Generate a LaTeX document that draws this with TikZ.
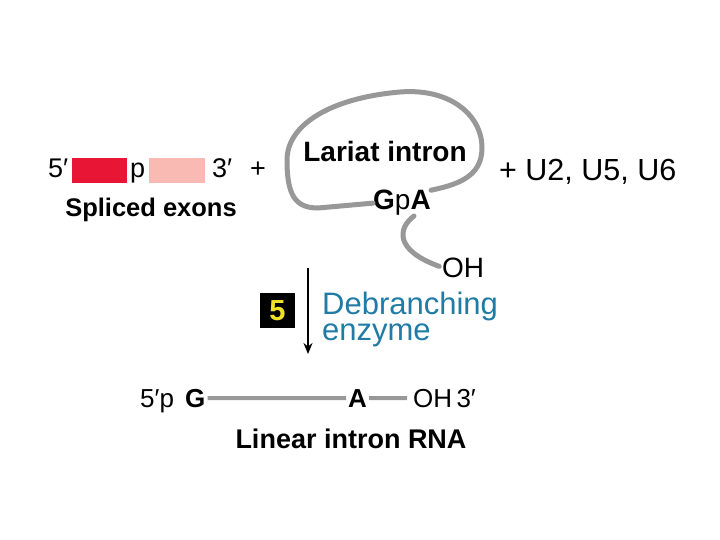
\documentclass[tikz,border=0pt]{standalone}
\usepackage{fontspec}
\setmainfont{Liberation Sans}
\usepackage{xcolor}
\usetikzlibrary{arrows.meta}
\definecolor{exonred}{RGB}{232,22,52}
\definecolor{exonpink}{RGB}{248,186,178}
\definecolor{rnagray}{RGB}{152,152,152}
\definecolor{enzblue}{RGB}{32,124,164}
\definecolor{stepyellow}{RGB}{240,226,40}
\tikzstyle{exonbox} = [rectangle, minimum height=25, inner sep=0]
\tikzstyle{rnaline} = [draw=rnagray, line width=5, line cap=round]
\tikzstyle{smalltext} = [inner sep=0, font=\fontsize{27}{30}\selectfont]
\tikzstyle{plaintext} = [inner sep=0, font=\fontsize{27}{30}\selectfont]
\tikzstyle{boldtext} = [inner sep=0, font=\bfseries\fontsize{27}{30}\selectfont]

\begin{document}
\begin{tikzpicture}[x=1pt, y=-1pt]
    \useasboundingbox[fill=white] (0,0) rectangle (720,540);
    % spliced exons
    \node[smalltext, anchor=base west] (fivea) at (48,178) {5′};
    \node[exonbox, fill=exonred, minimum width=55] (exona) at (99.5,170.5) {};
    \node[smalltext, anchor=base west] (pa) at (130,178) {p};
    \node[exonbox, fill=exonpink, minimum width=56] (exonb) at (177,170.5) {};
    \node[smalltext, anchor=base west] (threea) at (212,178) {3′};
    \node[smalltext, anchor=base west] (plusa) at (250,178) {+};
    \node[boldtext, font=\bfseries\fontsize{25.5}{28}\selectfont, anchor=base] (spliced) at (151,216) {Spliced exons};
    % lariat
    \node[boldtext, font=\bfseries\fontsize{28}{30}\selectfont, anchor=base] (lariat) at (385,162) {Lariat intron};
    \node[plaintext, font=\fontsize{28}{30}\selectfont, anchor=base] (gpa) at (402,210) {\textbf{G}p\textbf{A}};
    \node[plaintext, font=\fontsize{28}{30}\selectfont, anchor=base west] (oh) at (442,277) {OH};
    \node[plaintext, font=\fontsize{30.5}{32}\selectfont, anchor=base west] (snrna) at (499,181) {+ U2, U5, U6};
    \draw[rnaline] (gpa.west) -- (318,208) .. controls (295,208) and (287,195) .. (287,160)
        .. controls (287,125) and (330,98) .. (400,92) .. controls (450,88) and (482,115) .. (482,148)
        .. controls (482,178) and (455,185) .. (gpa.north east);
    \draw[rnaline, shorten >=3] ([xshift=12pt]gpa.south) .. controls (398,228) and (394,250) .. (oh.west);
    % step 5
    \node[fill=black, minimum size=35, inner sep=0, text=stepyellow,
        font=\bfseries\fontsize{29}{29}\selectfont] (stepnum) at (277.5,310.5) {5};
    \coordinate (arrtop) at (308,268);
    \coordinate (arrbot) at (308,354);
    \draw[line width=2, -{Stealth[length=11,width=9]}] (arrtop) -- (arrbot);
    \node[inner sep=0, text=enzblue, align=left, anchor=north west,
        font=\fontsize{31}{26}\selectfont] (enzyme) at (322,292) {Debranching\\enzyme};
    % linear intron
    \node[plaintext, font=\fontsize{26}{30}\selectfont, anchor=base west] (fiveb) at (140,407) {5′p};
    \node[boldtext, font=\bfseries\fontsize{26}{30}\selectfont, anchor=base west] (gb) at (185,407) {G};
    \node[boldtext, font=\bfseries\fontsize{26}{30}\selectfont, anchor=base west] (ab) at (348,407) {A};
    \node[plaintext, font=\fontsize{26}{30}\selectfont, anchor=base west] (ohb) at (413,407) {OH\,3′};
    \draw[rnaline, line width=4, line cap=butt, shorten <=2, shorten >=2] (gb) -- (ab);
    \draw[rnaline, line width=4, line cap=butt, shorten <=2, shorten >=6] (ab) -- (ohb.west);
    \node[boldtext, anchor=base] (linear) at (351,448) {Linear intron RNA};
\end{tikzpicture}
\end{document}
